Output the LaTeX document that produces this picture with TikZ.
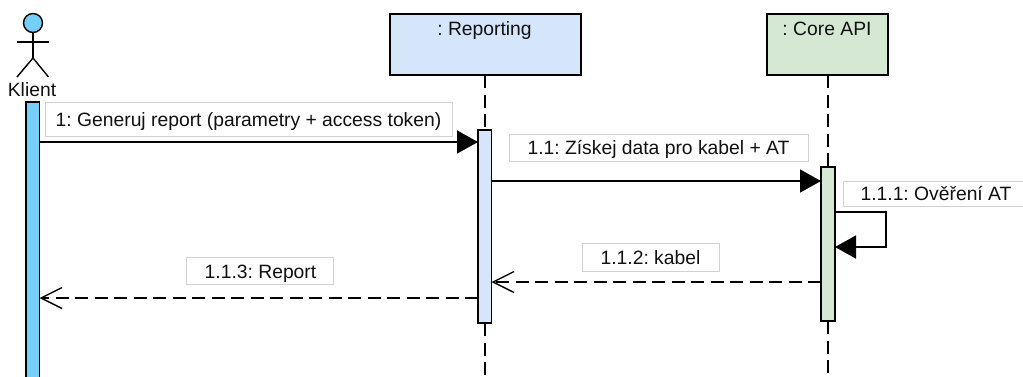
\documentclass[tikz,border=0pt]{standalone}
\usepackage{fontspec}
\setmainfont{Liberation Sans}
\usetikzlibrary{arrows.meta}
\definecolor{actblue}{HTML}{75CFF8}
\definecolor{repblue}{HTML}{D6E6FA}
\definecolor{coregreen}{HTML}{D5E8D4}
\definecolor{lblborder}{HTML}{D2D2D2}
\definecolor{ink}{HTML}{111111}
\frenchspacing
\tikzset{
  x=1pt,y=-1pt,
  every node/.style={font=\frenchspacing\fontsize{19.3}{22}\selectfont,text=ink,inner sep=0pt,outer sep=0pt},
  lifebox/.style={draw=black,line width=1.6pt,anchor=north west},
  activation/.style={draw=black,line width=1.6pt,anchor=north west},
  msgtext/.style={text height=18pt,text depth=4pt},
  msglabel/.style={msgtext,draw=lblborder,line width=0.9pt,fill=white,anchor=north west,align=center},
  lifeline/.style={line width=1.5pt,dash pattern=on 13pt off 6.5pt},
  syncmsg/.style={line width=1.4pt,-{Triangle[length=21pt,width=23pt]}},
  replymsg/.style={line width=1.4pt,dash pattern=on 13pt off 6.5pt,-{Straight Barb[length=21pt,width=21pt,line width=1.4pt]}},
  stickman/.style={line width=1.4pt,draw=black}
}
\begin{document}
\begin{tikzpicture}
\useasboundingbox (0,0) rectangle (1023,376);
% lifeline heads
\node[lifebox,fill=repblue,minimum width=191pt,minimum height=61pt] (rep) at (390,14) {};
\node[anchor=base] at (484.5,35) (repT) {: Reporting};
\node[lifebox,fill=coregreen,minimum width=121pt,minimum height=61pt] (core) at (767,14) {};
\node[anchor=base] at (827,35) (coreT) {: Core API};
% activations
\node[activation,fill=actblue,minimum width=13.5pt,minimum height=280pt] (aK) at (26,102) {};
\node[activation,fill=repblue,minimum width=13.5pt,minimum height=193pt] (aR) at (478,130) {};
\node[activation,fill=coregreen,minimum width=14pt,minimum height=154pt] (aC) at (821,167) {};
% lifelines
\coordinate (repEnd) at (484.6,376);
\coordinate (coreEnd) at (826.6,376);
\draw[lifeline] (rep.south -| aR.north) -- (aR.north);
\draw[lifeline] (aR.south) -- (aR.south |- repEnd);
\draw[lifeline] (core.south -| aC.north) -- (aC.north);
\draw[lifeline] (aC.south) -- (aC.south |- coreEnd);
% actor
\node[circle,draw=black,line width=1.4pt,fill=actblue,minimum size=19pt] (head) at (33,23) {};
\coordinate (hip) at (33,58);
\coordinate (armL) at (17,42);
\coordinate (armR) at (48.5,42);
\coordinate (footL) at (17,77);
\coordinate (footR) at (48.5,77);
\draw[stickman] (head.south) -- (hip);
\draw[stickman] (armL) -- (armR);
\draw[stickman] (footL) -- (hip) -- (footR);
\node[anchor=base] (klient) at (32,96) {Klient};
% messages
\coordinate (m1) at (0,142);
\coordinate (m2) at (0,181);
\coordinate (m3a) at (0,212);
\coordinate (m3b) at (0,247);
\coordinate (m4) at (0,282);
\coordinate (m5) at (0,298);
\coordinate (loop) at (886,0);
\draw[syncmsg] (aK.east |- m1) -- (aR.west |- m1);
\draw[syncmsg] (aR.east |- m2) -- (aC.west |- m2);
\draw[line width=1.4pt,-{Triangle[length=21pt,width=23pt]}] (aC.east |- m3a) -- (loop |- m3a) -- (loop |- m3b) -- (aC.east |- m3b);
\draw[replymsg] (aC.west |- m4) -- (aR.east |- m4);
\draw[replymsg] (aR.west |- m5) -- (aK.east |- m5);
% labels
\node[msglabel,minimum width=407pt,minimum height=34pt] (l1) at (45,102) {1: Generuj report (parametry + access token)};
\node[msglabel,minimum width=299pt,minimum height=26.5pt] (l2) at (509,134.5) {1.1: Získej data pro kabel + AT};
\node[msgtext,fill=white,anchor=north west,minimum width=180pt,minimum height=25pt] (l3) at (843,181) {\hspace*{6pt}1.1.1: Ověření AT};
\draw[draw=lblborder,line width=0.9pt] (l3.north east) -- (l3.north west) -- (l3.south west) -- (l3.south east);
\node[msglabel,minimum width=137pt,minimum height=27.5pt] (l4) at (582,243.5) {1.1.2: kabel};
\node[msglabel,text height=19pt,text depth=3pt,minimum width=147pt,minimum height=27pt] (l5) at (186,257) {\hspace*{2pt}1.1.3: Report};
\end{tikzpicture}
\end{document}
